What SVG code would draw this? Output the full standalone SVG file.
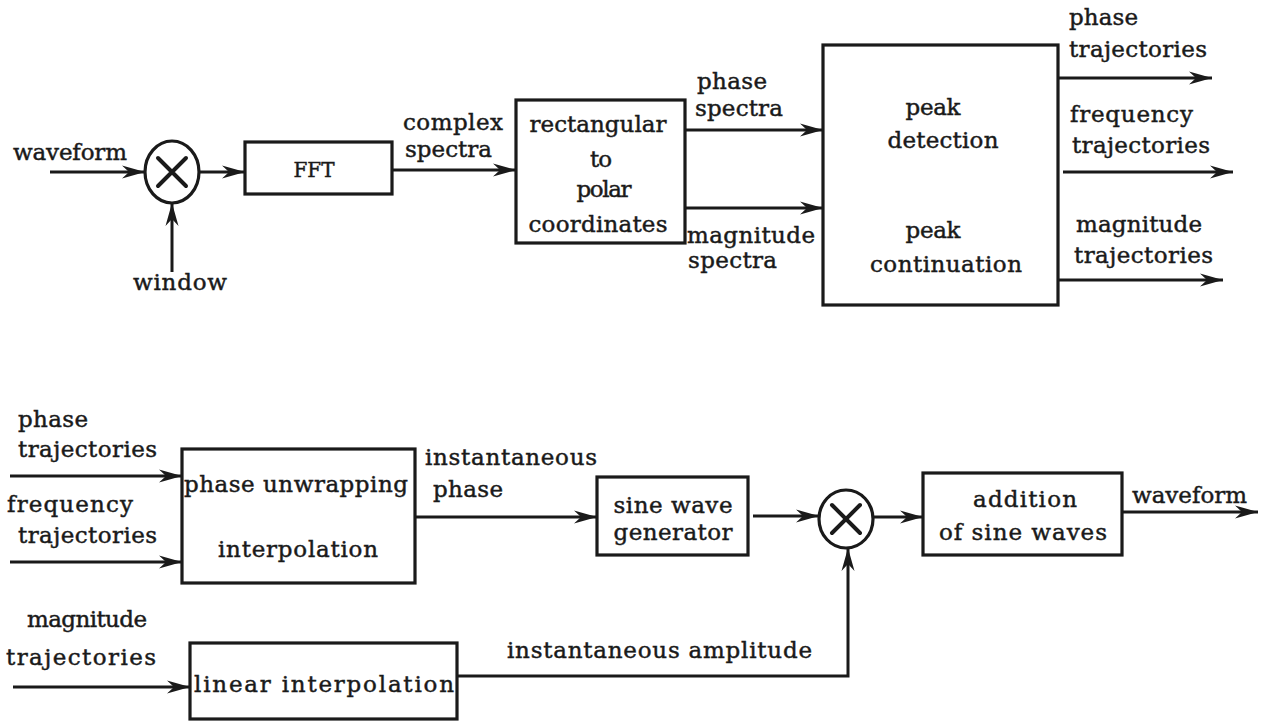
<svg xmlns="http://www.w3.org/2000/svg" width="1272" height="724" viewBox="0 0 1272 724">
<defs>
<marker id="ah" markerWidth="26" markerHeight="16" refX="24" refY="8" orient="auto" markerUnits="userSpaceOnUse">
<path d="M24,8 L1,1.5 L8,8 L1,14.5 Z" fill="#1a1a1a"/>
</marker>
<style>
text{font-family:"DejaVu Serif","Liberation Serif",serif;font-size:23px;fill:#1a1a1a;stroke:#1a1a1a;stroke-width:0.45}
.box{fill:none;stroke:#1a1a1a;stroke-width:3.2}
.mul{fill:#fff;stroke:#1a1a1a;stroke-width:3.2}
.x{stroke:#1a1a1a;stroke-width:4;stroke-linecap:round}
.c{fill:none;stroke:#1a1a1a;stroke-width:3}
.m{text-anchor:middle}
</style>
</defs>
<rect width="1272" height="724" fill="#fff"/>

<g id="connectors">
<path class="c" d="M50,172 H145" marker-end="url(#ah)"/>
<path class="c" d="M172,272 V203" marker-end="url(#ah)"/>
<path class="c" d="M200,172 H245" marker-end="url(#ah)"/>
<path class="c" d="M392,170 H516" marker-end="url(#ah)"/>
<path class="c" d="M685,130 H823" marker-end="url(#ah)"/>
<path class="c" d="M685,208 H823" marker-end="url(#ah)"/>
<path class="c" d="M1058,78 H1212" marker-end="url(#ah)"/>
<path class="c" d="M1063,172 H1233" marker-end="url(#ah)"/>
<path class="c" d="M1058,280 H1223" marker-end="url(#ah)"/>
<path class="c" d="M10,476 H182" marker-end="url(#ah)"/>
<path class="c" d="M10,562 H182" marker-end="url(#ah)"/>
<path class="c" d="M415,517 H597" marker-end="url(#ah)"/>
<path class="c" d="M753,516 H819" marker-end="url(#ah)"/>
<path class="c" d="M873,517 H923" marker-end="url(#ah)"/>
<path class="c" d="M1122,512 H1258" marker-end="url(#ah)"/>
<path class="c" d="M13,687 H190" marker-end="url(#ah)"/>
<path class="c" d="M457,676 H848 V548" marker-end="url(#ah)"/>
</g>

<g id="labels">
<text x="13" y="160" textLength="114">waveform</text>
<text x="133" y="290" textLength="94">window</text>
<text x="403" y="130" textLength="100">complex</text>
<text x="405" y="157" textLength="87">spectra</text>
<text x="697" y="89" textLength="70">phase</text>
<text x="695" y="116" textLength="88">spectra</text>
<text x="687" y="243" textLength="128">magnitude</text>
<text x="688" y="268" textLength="89">spectra</text>
<text x="1069" y="25" textLength="69">phase</text>
<text x="1069" y="57" textLength="138">trajectories</text>
<text x="1070" y="122" textLength="123">frequency</text>
<text x="1072" y="153" textLength="138">trajectories</text>
<text x="1076" y="232" textLength="126">magnitude</text>
<text x="1074" y="263" textLength="139">trajectories</text>
<text x="18" y="427" textLength="70">phase</text>
<text x="18" y="457" textLength="139">trajectories</text>
<text x="7" y="512" textLength="126">frequency</text>
<text x="18" y="543" textLength="139">trajectories</text>
<text x="425" y="465" textLength="172">instantaneous</text>
<text x="433" y="497" textLength="70">phase</text>
<text x="1132" y="503" textLength="115">waveform</text>
<text x="27" y="627" textLength="120">magnitude</text>
<text x="6" y="665" textLength="150">trajectories</text>
<text x="507" y="658" textLength="305">instantaneous amplitude</text>
</g>

<g id="mult1">
<ellipse class="mul" cx="172" cy="172" rx="27" ry="31"/>
<path class="x" d="M158,158 L186,186 M186,158 L158,186"/>
</g>

<g id="fft">
<rect class="box" x="245" y="142" width="147" height="52"/>
<text class="m" x="314" y="177" style="font-size:20px">FFT</text>
</g>

<g id="rect2polar">
<rect class="box" x="516" y="100" width="169" height="143"/>
<text class="m" x="598" y="132" textLength="137">rectangular</text>
<text class="m" x="601" y="167" textLength="22">to</text>
<text class="m" x="604" y="197" textLength="55">polar</text>
<text class="m" x="598" y="232" textLength="139">coordinates</text>
</g>

<g id="peak">
<rect class="box" x="823" y="45" width="235" height="260"/>
<text class="m" x="933" y="115" textLength="55">peak</text>
<text class="m" x="943" y="148" textLength="111">detection</text>
<text class="m" x="933" y="238" textLength="55">peak</text>
<text class="m" x="946" y="272" textLength="152">continuation</text>
</g>

<g id="unwrap">
<rect class="box" x="182" y="449" width="233" height="134"/>
<text x="184" y="492" textLength="224">phase unwrapping</text>
<text class="m" x="298" y="557" textLength="160">interpolation</text>
</g>

<g id="sinegen">
<rect class="box" x="597" y="477" width="151" height="78"/>
<text class="m" x="673" y="513" textLength="119">sine wave</text>
<text class="m" x="673" y="540" textLength="119">generator</text>
</g>

<g id="mult2">
<ellipse class="mul" cx="846" cy="519" rx="27" ry="29"/>
<path class="x" d="M832,505 L860,533 M860,505 L832,533"/>
</g>

<g id="addition">
<rect class="box" x="923" y="473" width="199" height="82"/>
<text class="m" x="1025" y="507" textLength="104">addition</text>
<text class="m" x="1023" y="540" textLength="168">of sine waves</text>
</g>

<g id="linear">
<rect class="box" x="190" y="643" width="267" height="76"/>
<text x="194" y="692" textLength="260">linear interpolation</text>
</g>
</svg>
